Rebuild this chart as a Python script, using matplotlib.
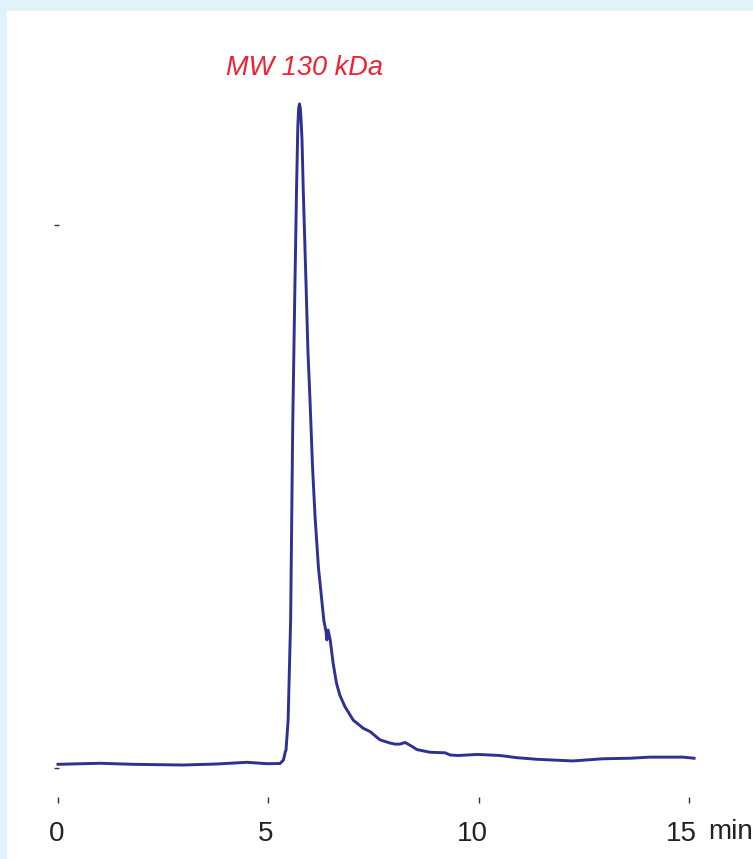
import matplotlib.pyplot as plt
from matplotlib.patches import Rectangle
from matplotlib.transforms import ScaledTranslation

# retention time (min) and detector signal (relative units)
time_min = [0.00, 1.00, 1.78, 2.97, 3.78, 4.49, 4.97, 5.28, 5.36, 5.40, 5.42,
            5.47, 5.53, 5.58, 5.63, 5.67, 5.70, 5.72, 5.74, 5.76, 5.78, 5.80,
            5.83, 5.90, 5.94, 5.99, 6.05, 6.11, 6.19, 6.27, 6.32, 6.37, 6.39,
            6.42, 6.47, 6.54, 6.62, 6.70, 6.82, 7.02, 7.26, 7.42, 7.65, 7.89,
            8.01, 8.13, 8.25, 8.41, 8.53, 8.84, 9.20, 9.32, 9.51, 9.98, 10.51,
            10.91, 11.39, 12.24, 12.95, 13.60, 14.07, 14.86, 15.12]
signal = [0.0068, 0.0087, 0.0068, 0.0055, 0.0074, 0.0105, 0.0079, 0.0083,
          0.015, 0.029, 0.033, 0.088, 0.273, 0.635, 0.880, 1.064, 1.180,
          1.215, 1.223, 1.215, 1.190, 1.157, 1.064, 0.880, 0.770, 0.678,
          0.555, 0.463, 0.370, 0.309, 0.271, 0.252, 0.236, 0.254, 0.236,
          0.193, 0.156, 0.134, 0.113, 0.088, 0.073, 0.067, 0.052, 0.046,
          0.044, 0.044, 0.047, 0.040, 0.034, 0.029, 0.028, 0.024, 0.023,
          0.025, 0.023, 0.019, 0.016, 0.013, 0.017, 0.018, 0.020, 0.020,
          0.018]

x_ticks = [0, 5, 10, 15]
y_ticks = [0, 1]
peak_label = 'MW 130 kDa'

plt.rcParams['font.family'] = ['Liberation Sans', 'DejaVu Sans']

fig = plt.figure(figsize=(7.53, 8.59), dpi=100)
fig.patch.set_facecolor('#e0f3fa')
fig.patches.append(Rectangle((7 / 753, 0), 746 / 753, 848 / 859,
                             transform=fig.transFigure, facecolor='white',
                             edgecolor='none', zorder=-10))

ax = fig.add_axes([0.04909, 0.04272, 0.8939, 0.8850])
ax.patch.set_alpha(0)
ax.plot(time_min, signal, color='#2e3192', lw=2.1, solid_joinstyle='round',
        clip_on=False)

ax.set_xlim(-0.5, 15.5)
ax.set_ylim(-0.1, 1.3)

for s in ax.spines.values():
    s.set_visible(False)
ax.spines['bottom'].set_position(('data', -0.0589))
ax.spines['left'].set_position(('data', -0.036))

ax.set_xticks(x_ticks)
ax.set_xticklabels([str(v) for v in x_ticks])
ax.set_yticks(y_ticks)
ax.set_yticklabels([])
ax.tick_params(axis='x', direction='inout', length=4.3, width=1.0,
               color='#333333', pad=13, labelsize=20, labelcolor='#222222')
ax.tick_params(axis='y', direction='inout', length=3.6, width=1.0,
               color='#333333')

# labels in the original sit a little left of their ticks
shifts = [-1, -2.5, -6, -8]
for lab, dx in zip(ax.get_xticklabels(), shifts):
    lab.set_transform(lab.get_transform() +
                      ScaledTranslation(dx / 100, 0, fig.dpi_scale_trans))

ax.text(15.45, -0.1173, 'min', fontsize=20, color='#222222',
        ha='left', va='center', clip_on=False)
ax.text(5.86, 1.289, peak_label, fontsize=19.5, style='italic',
        color='#ee2233', ha='center', va='center')

fig.savefig('out.png', dpi=100, facecolor=fig.get_facecolor())
